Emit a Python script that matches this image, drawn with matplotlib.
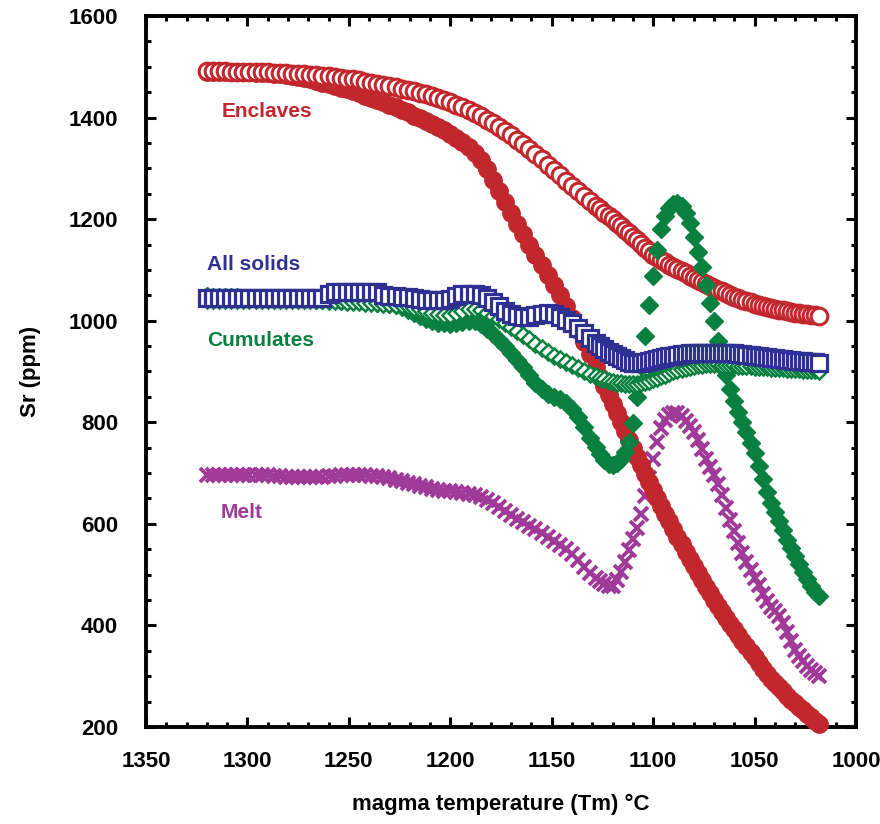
import matplotlib
matplotlib.use("Agg")
import matplotlib.pyplot as plt
from matplotlib.ticker import MultipleLocator

plt.rcParams['font.family'] = ['Liberation Sans', 'DejaVu Sans']
plt.rcParams['font.weight'] = 'bold'

# temperature steps of the model (°C)
temp = [1320, 1317, 1314, 1311, 1308, 1305, 1302, 1299, 1296, 1293,
        1290, 1287, 1284, 1281, 1278, 1275, 1272, 1269, 1266, 1263,
        1260, 1257, 1254, 1251, 1248, 1245, 1242, 1239, 1236, 1233,
        1230, 1227, 1224, 1221, 1218, 1215, 1212, 1209, 1206, 1203,
        1200, 1197, 1194, 1191, 1188, 1185, 1182, 1179, 1176, 1173,
        1170, 1167, 1164, 1161, 1158, 1155, 1152, 1149, 1146, 1143,
        1140, 1137, 1134, 1131, 1128,
        1126, 1124, 1122, 1120, 1118, 1116, 1114, 1112, 1110, 1108,
        1106, 1104, 1102, 1100, 1098, 1096, 1094, 1092, 1090, 1088,
        1086, 1084, 1082, 1080, 1078, 1076, 1074, 1072, 1070, 1068,
        1066, 1064, 1062, 1060, 1058, 1056, 1054, 1052, 1050, 1048,
        1046, 1044, 1042, 1040, 1038, 1036, 1034, 1032, 1030, 1028,
        1026, 1024, 1022, 1020, 1018]

# Sr (ppm)
enclaves_open = [1491, 1491, 1491, 1491, 1490, 1490, 1490, 1490, 1489, 1489,
                 1489, 1488, 1488, 1487, 1486, 1486, 1485, 1484, 1483, 1482,
                 1481, 1479, 1478, 1476, 1475, 1473, 1471, 1469, 1467, 1465,
                 1462, 1460, 1457, 1455, 1452, 1449, 1446, 1443, 1439, 1434,
                 1430, 1425, 1420, 1415, 1409, 1403, 1396, 1390, 1382, 1373,
                 1365, 1356, 1347, 1338, 1328, 1318, 1307, 1297, 1286, 1276,
                 1265, 1255, 1245, 1235, 1226,
                 1219, 1213, 1206, 1200, 1193, 1186, 1179, 1172, 1165, 1158,
                 1151, 1144, 1137, 1130, 1125, 1120, 1115, 1110, 1105, 1101,
                 1097, 1093, 1089, 1085, 1081, 1077, 1073, 1069, 1065, 1061,
                 1058, 1054, 1051, 1047, 1044, 1041, 1038, 1036, 1033, 1031,
                 1029, 1027, 1026, 1024, 1022, 1021, 1019, 1018, 1016, 1015,
                 1014, 1013, 1012, 1011, 1010]

enclaves_fill = [1490, 1490, 1490, 1490, 1490, 1489, 1489, 1489, 1488, 1488,
                 1487, 1486, 1485, 1484, 1482, 1480, 1477, 1475, 1472, 1469,
                 1466, 1463, 1459, 1456, 1452, 1448, 1443, 1439, 1434, 1430,
                 1425, 1420, 1415, 1410, 1404, 1399, 1394, 1388, 1382, 1375,
                 1368, 1360, 1352, 1343, 1330, 1316, 1298, 1277, 1255, 1233,
                 1212, 1191, 1170, 1150, 1130, 1110, 1090, 1070, 1050, 1028,
                 1005, 982, 958, 934, 908,
                 890, 872, 854, 836, 818, 800, 783, 766, 749, 732,
                 715, 699, 683, 667, 651, 635, 620, 605, 590, 575,
                 560, 545, 531, 517, 503, 489, 476, 463, 450, 438,
                 426, 414, 403, 392, 381, 370, 359, 348, 337, 326,
                 315, 305, 295, 286, 278, 270, 262, 254, 247, 240,
                 233, 226, 219, 212, 205]

all_solids = [1045, 1045, 1045, 1045, 1045, 1045, 1045, 1045, 1045, 1045,
              1045, 1045, 1045, 1045, 1045, 1045, 1045, 1045, 1045, 1045,
              1052, 1056, 1056, 1056, 1056, 1056, 1056, 1056, 1056, 1050,
              1048, 1048, 1047, 1046, 1044, 1042, 1041, 1040, 1040, 1040,
              1043, 1049, 1052, 1053, 1053, 1051, 1045, 1037, 1029, 1020,
              1013, 1009, 1007, 1008, 1011, 1014, 1015, 1013, 1008, 1002,
              996, 986, 975, 966, 957,
              950, 944, 938, 934, 930, 926, 922, 919, 917, 916,
              917, 918, 920, 922, 924, 926, 928, 930, 931, 933,
              934, 935, 936, 937, 937, 937, 937, 937, 937, 937,
              937, 936, 936, 936, 935, 934, 933, 932, 931, 930,
              929, 928, 927, 926, 925, 924, 923, 922, 921, 920,
              920, 919, 919, 918, 917]

cumulates_open = [1040, 1040, 1040, 1040, 1040, 1040, 1040, 1040, 1040, 1040,
                  1040, 1040, 1040, 1040, 1040, 1040, 1040, 1040, 1040, 1040,
                  1039, 1038, 1038, 1037, 1037, 1036, 1035, 1034, 1034, 1033,
                  1033, 1031, 1030, 1028, 1026, 1023, 1020, 1016, 1013, 1012,
                  1012, 1015, 1020, 1023, 1024, 1021, 1016, 1010, 1003, 995,
                  988, 980, 972, 964, 955, 946, 938, 931, 924, 918,
                  912, 907, 901, 896, 891,
                  888, 885, 882, 880, 878, 877, 876, 875, 875, 876,
                  877, 879, 882, 885, 888, 891, 894, 897, 900, 903,
                  905, 907, 909, 911, 912, 913, 914, 914, 914, 914,
                  913, 913, 912, 912, 911, 911, 910, 910, 909, 909,
                  908, 908, 907, 907, 906, 906, 905, 905, 904, 904,
                  903, 903, 902, 902, 901]

cumulates_fill = [1048, 1047, 1047, 1046, 1046, 1046, 1045, 1045, 1045, 1044,
                  1044, 1044, 1043, 1043, 1043, 1042, 1042, 1042, 1041, 1041,
                  1040, 1040, 1039, 1039, 1038, 1038, 1037, 1036, 1035, 1034,
                  1033, 1030, 1027, 1022, 1016, 1010, 1004, 999, 996, 995,
                  994, 995, 998, 1000, 999, 993, 984, 973, 962, 950,
                  937, 923, 908, 893, 878, 866, 856, 850, 845, 838,
                  826, 810, 790, 770, 752,
                  738, 726, 718, 716, 720, 728, 742, 762, 798, 850,
                  910, 970, 1030, 1088, 1140, 1180, 1207, 1222, 1230, 1231,
                  1225, 1212, 1192, 1165, 1135, 1105, 1070, 1035, 1000, 960,
                  925, 893, 866, 842, 820, 800, 780, 760, 740, 714,
                  688, 663, 642, 623, 605, 587, 569, 552, 536, 520,
                  505, 491, 478, 466, 457]

melt = [697, 697, 697, 697, 697, 697, 697, 697, 696, 696,
        696, 695, 694, 693, 692, 692, 692, 692, 692, 693,
        694, 695, 696, 696, 696, 696, 696, 695, 694, 692,
        690, 687, 684, 681, 678, 675, 672, 669, 667, 665,
        664, 663, 661, 659, 656, 652, 647, 641, 634, 626,
        618, 610, 603, 596, 589, 582, 574, 566, 558, 550,
        540, 528, 515, 504, 494,
        488, 481, 477, 478, 490, 505, 525, 548, 570, 592,
        620, 655, 690, 728, 762, 788, 805, 814, 818, 819,
        813, 803, 792, 780, 765, 747, 728, 712, 696, 678,
        656, 632, 608, 585, 563, 543, 525, 509, 494, 480,
        462, 448, 437, 428, 418, 404, 388, 370, 352, 340,
        330, 321, 313, 306, 301]

red = '#C1272D'
blue = '#2E3192'
green = '#0A8040'
purple = '#A03A98'

fig = plt.figure(figsize=(8.8, 8.24), dpi=100)
ax = fig.add_axes([146 / 880, 97 / 824, 710 / 880, 711 / 824])

ax.plot(temp, melt, ls='none', marker='x', ms=10.5, mew=2.8, color=purple, zorder=2)
ax.plot(temp, enclaves_fill, ls='none', marker='o', ms=12.5, color=red, zorder=3, clip_on=False)
ax.plot(temp, enclaves_open, ls='none', marker='o', ms=12, mfc='white', mec=red, mew=2.2, zorder=4)
ax.plot(temp, cumulates_fill, ls='none', marker='D', ms=9.5, color=green, zorder=5)
ax.plot(temp, cumulates_open, ls='none', marker='D', ms=8, mfc='white', mec=green, mew=1.8, zorder=6)
ax.plot(temp, all_solids, ls='none', marker='s', ms=11, mfc='white', mec=blue, mew=2.3, zorder=7)

# series labels
ax.text(1312.5, 1411, 'Enclaves', color=red, fontsize=15, fontweight='bold', va='center')
ax.text(1320, 1110, 'All solids', color=blue, fontsize=15, fontweight='bold', va='center')
ax.text(1320, 962, 'Cumulates', color=green, fontsize=15, fontweight='bold', va='center')
ax.text(1313, 622, 'Melt', color=purple, fontsize=15, fontweight='bold', va='center')

ax.set_xlim(1350, 1000)
ax.set_ylim(200, 1600)
ax.xaxis.set_major_locator(MultipleLocator(50))
ax.xaxis.set_minor_locator(MultipleLocator(10))
ax.yaxis.set_major_locator(MultipleLocator(200))
ax.yaxis.set_minor_locator(MultipleLocator(50))

for s in ax.spines.values():
    s.set_linewidth(2.8)
ax.tick_params(which='both', direction='in', top=True, right=True, width=2.2)
ax.tick_params(which='major', length=7.5, labelsize=16)
ax.tick_params(axis='y', which='major', pad=20)
ax.tick_params(axis='x', which='major', pad=17)
ax.tick_params(which='minor', length=3.8)
for lab in ax.get_xticklabels() + ax.get_yticklabels():
    lab.set_fontweight('bold')

ax.set_xlabel('magma temperature (Tm) \u00b0C', fontsize=16, fontweight='bold', labelpad=16)
ax.set_ylabel('Sr (ppm)', fontsize=16, fontweight='bold', labelpad=20)

fig.savefig('out.png', dpi=100)
